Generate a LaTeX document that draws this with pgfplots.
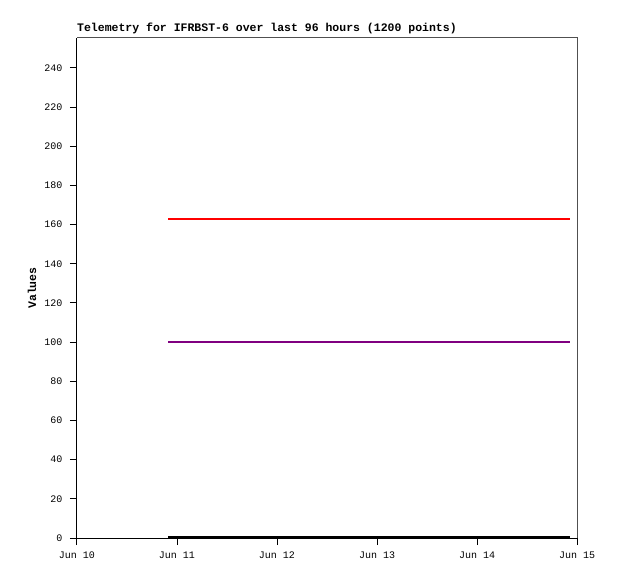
\documentclass[border=0pt]{standalone}
\usepackage{fontspec}
\setmainfont{Liberation Mono}
\usepackage{pgfplots}
\pgfplotsset{compat=1.18}
\definecolor{spinegray}{RGB}{80,80,80}
\definecolor{purp}{RGB}{128,0,128}
\begin{document}
\begin{tikzpicture}[x=1pt,y=1pt]
\useasboundingbox (0,0) rectangle (618,579);
\begin{axis}[
  at={(77pt,41pt)}, anchor=south west,
  scale only axis, width=500pt, height=500pt,
  xmin=0, xmax=5, ymin=0, ymax=255.3,
  axis x line*=bottom, axis y line*=left,
  axis line style={black, line width=1pt, -},
  xtick={0,1,2,3,4,5},
  xticklabels={Jun 10,Jun 11,Jun 12,Jun 13,Jun 14,Jun 15},
  ytick={0,20,...,240},
  tick align=outside,
  major tick length=7pt,
  tick style={black, line width=1pt},
  /pgf/number format/assume math mode=true,
  ticklabel style={font=\fontsize{10}{11}\selectfont},
  xticklabel style={yshift=-3pt},
  yticklabel style={xshift=-4pt},
  ylabel={\textbf{Values}},
  ylabel style={font=\fontsize{11.5}{12}\selectfont, at={(axis description cs:-0.09,0.5)}, anchor=center},
  title={\textbf{Telemetry for IFRBST-6 over last 96 hours (1200 points)}},
  title style={font=\fontsize{11.5}{12}\selectfont, at={(axis description cs:0,1)}, anchor=south west, inner sep=0pt, yshift=-2.5pt},
  clip=false,
]
\addplot[red, line width=2pt] coordinates {(0.91,163) (4.93,163)};
\addplot[purp, line width=2pt] coordinates {(0.91,100.2) (4.93,100.2)};
\addplot[black, line width=2pt] coordinates {(0.91,0.5) (4.93,0.5)};
\draw[spinegray, line width=1pt] (rel axis cs:0,1) -- (rel axis cs:1,1) -- (rel axis cs:1,0);
\end{axis}
\end{tikzpicture}
\end{document}
